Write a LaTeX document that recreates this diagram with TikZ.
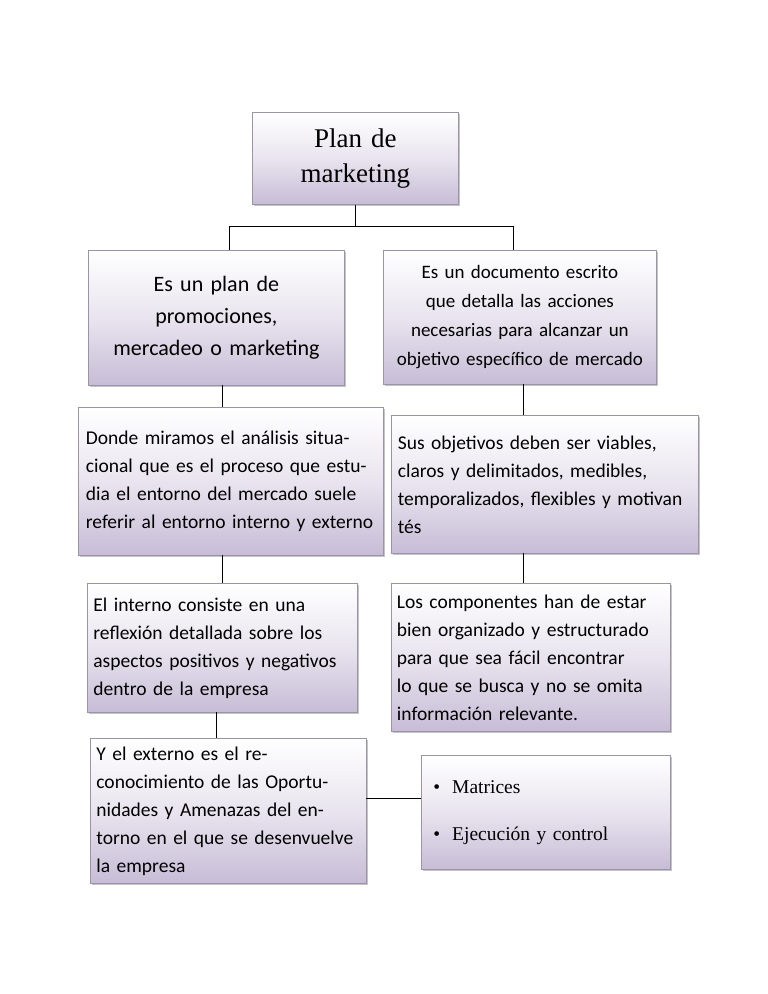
\documentclass[tikz,border=0pt]{standalone}
\usepackage{fontspec}
\setmainfont{Carlito}
\newfontfamily\serifx{Liberation Serif}
\usetikzlibrary{shadows}
\definecolor{lav}{HTML}{C7BCD6}
\definecolor{bord}{HTML}{9A94A6}
\newcommand\nohyph{\hyphenpenalty=10000\relax\exhyphenpenalty=10000\relax}
\tikzset{
 box/.style={draw=bord, line width=0.8pt, top color=white, bottom color=lav, middle color=white!60!lav,
   drop shadow={shadow xshift=2pt, shadow yshift=-2pt, fill=black!45},
   inner sep=5pt, align=left, font=\fontsize{19.5}{28}\selectfont, anchor=north west},
 conn/.style={draw=black, line width=0.7pt}
}
\begin{document}
\begin{tikzpicture}[x=1pt,y=1pt]
\useasboundingbox (0,0) rectangle (768,-994);
\node[box, minimum width=206, minimum height=92, text width=190, align=center, font=\serifx\fontsize{27}{35}\selectfont] (t) at (252,-112) {Plan de\\marketing\\[8pt]};
\node[box, minimum width=256, minimum height=135, text width=244, align=center, font=\fontsize{22}{32}\selectfont] (b1) at (88,-250) {\nohyph Es un plan de promociones, mercadeo o marketing\\[24pt]};
\node[box, minimum width=273, minimum height=134, text width=262, align=center, font=\fontsize{19}{29}\selectfont] (b2) at (383,-250) {\nohyph Es un documento escrito que detalla las acciones necesarias para alcanzar un objetivo específico de mercado\\[10pt]};
\node[box, minimum width=305, minimum height=148, text width=290] (b3) at (78,-407) {\nohyph Donde miramos el análisis situacional que es el proceso que estudia el entorno del mercado suele referir al entorno interno y externo};
\node[box, minimum width=307, minimum height=138, text width=294] (b4) at (391,-415) {\nohyph Sus objetivos deben ser viables, claros y delimitados, medibles, temporalizados, flexibles y motivan tés\\[18pt]};
\node[box, minimum width=270, minimum height=129, text width=258] (b5) at (87,-583) {\nohyph El interno consiste en una reflexión detallada sobre los aspectos positivos y negativos dentro de la empresa\\[12pt]};
\node[box, minimum width=279, minimum height=148, text width=268] (b6) at (391,-583) {\nohyph Los componentes han de estar bien organizado y estructurado para que sea fácil encontrar lo que se busca y no se omita información relevante.\\[6pt]};
\node[box, minimum width=276, minimum height=145, text width=264] (b7) at (90,-738) {\nohyph Y el externo es el reconocimiento de las Oportunidades y Amenazas del entorno en el que se desenvuelve la empresa};
\node[box, minimum width=249, minimum height=114, text width=225, font=\serifx\fontsize{19.5}{47}\selectfont] (b8) at (421,-755) {\textbullet\hspace{12pt}Matrices\\\textbullet\hspace{12pt}Ejecución y control\\[-2pt]};
\coordinate (j) at (355,-226);
\draw[conn] (t.south -| j) -- (j);
\draw[conn] (229,-226) -- (513,-226);
\draw[conn] (229,-226) -- (229,-250);
\draw[conn] (513,-226) -- (513,-250);
\draw[conn] (222,-385) -- (222,-407);
\draw[conn] (523,-384) -- (523,-415);
\draw[conn] (222,-555) -- (222,-583);
\draw[conn] (523,-553) -- (523,-583);
\draw[conn] (216,-712) -- (216,-738);
\draw[conn] (366,-798) -- (421,-798);
\end{tikzpicture}
\end{document}
